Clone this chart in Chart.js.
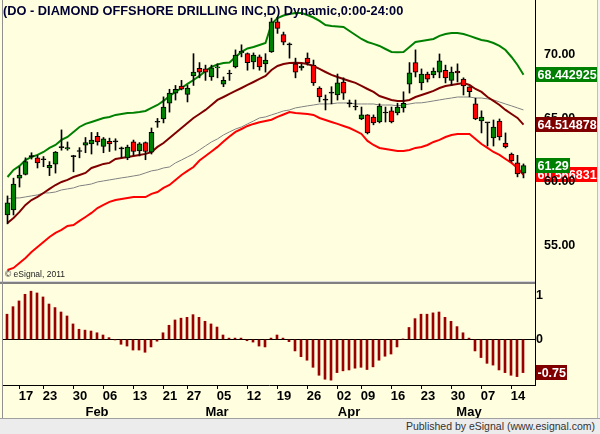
<!DOCTYPE html>
<html>
<head>
<meta charset="utf-8">
<script src="https://cdn.jsdelivr.net/npm/chart.js@4.4.0/dist/chart.umd.min.js"></script>
<style>
  body { margin: 0; width: 600px; height: 434px; overflow: hidden; position: relative; background: #FFFFE0; font-family: "Liberation Sans", Arial, sans-serif; }
  canvas { position: absolute; left: 0; }
  #price { top: 0; }
  #osc { top: 282px; }
  .line { position: absolute; }
  #footer { position: absolute; left: 0; top: 418px; width: 600px; height: 16px; background: #ECECEC; border-top: 1px solid #A0A0A0; box-sizing: border-box; font-size: 10.5px; color: #333; text-align: right; padding-right: 5px; line-height: 15px; }
</style>
</head>
<body>
<canvas id="price" width="600" height="282"></canvas>
<canvas id="osc" width="600" height="137"></canvas>
<div class="line" style="left:0;top:281px;width:535px;height:1px;background:#D8D8D8"></div>
<div class="line" style="left:0;top:282px;width:535px;height:2px;background:#808080"></div>
<div class="line" style="left:2px;top:0;width:1px;height:418px;background:#909090"></div>
<div class="line" style="left:535px;top:0;width:1px;height:385px;background:#000"></div>
<div class="line" style="left:597px;top:0;width:3px;height:418px;background:#F2F2F2;border-left:1px solid #C0C0C0"></div>
<div id="footer">Published by eSignal (www.esignal.com)</div>
<script>
// daily bars, index 0..86
const opens = [57.4,57.8,60.3,60.6,62.0,61.9,61.75,61.1,61.4,62.7,
  62.6,62.0,62.4,62.9,63.0,63.6,62.8,63.2,63.15,62.6,
  61.9,63.15,62.45,63.1,62.35,64.7,64.96,66.2,67.0,67.55,
  66.9,68.35,68.95,68.9,68.27,68.98,67.7,68.5,69.05,70.16,
  70.1,69.45,69.85,69.3,70.24,72.6,71.6,70.8,69.3,68.98,
  69.76,69.2,67.4,66.45,67.0,66.85,67.87,66.15,65.9,64.96,
  65.28,65.1,64.72,65.43,65.6,65.43,65.83,67.7,69.4,67.8,
  68.5,68.43,68.65,68.8,68.0,68.74,68.1,67.5,66.15,64.8,
  64.65,63.46,64.8,63.07,62.2,61.5,60.7];
const highs = [58.9,60.3,61.2,61.9,62.3,62.1,62.0,61.6,62.4,64.1,
  63.15,62.1,62.7,63.5,63.9,63.9,63.5,63.45,63.4,62.75,
  62.9,63.3,63.1,63.15,64.25,65.0,66.7,67.3,67.6,68.0,
  67.6,70.1,69.4,69.2,69.2,69.3,68.27,68.8,70.4,70.8,
  70.16,70.16,70.0,70.1,72.9,72.9,71.8,70.95,69.75,69.3,
  70.16,69.6,67.5,66.85,67.5,68.5,68.2,66.45,66.45,65.9,
  65.3,65.28,66.15,65.9,65.9,66.2,67.1,69.4,70.4,68.9,
  68.65,68.98,70.08,69.2,69.05,69.3,68.2,67.5,66.6,65.6,
  64.65,64.88,64.96,63.86,62.28,62.1,61.42];
const lows = [56.7,57.4,59.6,60.55,61.8,61.1,61.2,60.5,60.7,62.5,
  62.5,60.8,61.9,62.3,62.2,62.9,62.3,62.4,62.5,61.9,
  61.75,62.1,62.05,61.75,62.2,64.3,64.65,65.5,66.45,67.25,
  66.3,67.6,68.2,68.0,68.0,68.2,67.5,68.0,68.98,69.85,
  68.8,68.9,68.8,68.65,70.2,71.7,70.8,69.75,68.2,68.8,
  69.2,67.6,66.3,65.67,66.15,66.45,66.5,65.9,65.67,64.9,
  63.78,64.5,64.65,64.72,64.65,65.28,65.5,67.0,68.27,67.25,
  67.87,68.2,68.2,67.8,67.6,67.87,66.85,66.7,64.9,63.86,
  62.83,62.83,63.3,62.68,61.57,60.4,60.32];
const closes = [58.35,59.84,60.55,61.6,62.0,61.5,61.75,61.3,62.35,62.7,
  62.7,62.0,62.4,63.1,63.3,63.15,63.4,63.0,63.15,62.6,
  62.75,62.4,63.0,62.4,63.9,64.7,65.9,67.0,67.3,67.3,
  67.4,68.65,68.65,68.65,68.98,69.05,68.0,68.5,70.0,70.3,
  69.4,70.0,69.05,69.6,72.6,72.1,71.0,70.8,68.65,69.13,
  69.37,67.8,66.7,66.45,67.0,67.8,67.0,66.15,65.9,65.28,
  63.86,64.65,65.98,65.43,64.72,65.9,66.2,68.6,68.65,68.5,
  68.1,68.74,69.53,68.2,68.65,68.58,67.56,67.1,64.96,65.1,
  64.65,64.33,63.54,62.76,61.65,60.63,61.29];

// band lines
const upperBand = [60.39,60.95,61.26,61.73,61.97,62.13,62.36,62.68,62.91,63.31,
  63.54,63.94,64.33,64.57,64.72,64.88,65.04,65.12,65.28,65.35,
  65.43,65.45,65.51,65.59,65.83,66.06,66.38,66.77,67.09,67.40,
  67.72,68.03,68.35,68.74,69.06,69.25,69.37,69.41,69.84,70.24,
  70.51,70.63,70.79,70.94,72.44,72.91,73.11,73.23,73.31,73.31,
  73.15,72.95,72.68,72.36,72.28,72.24,72.21,71.89,71.57,71.26,
  71.02,70.87,70.71,70.47,70.24,70.22,70.24,70.63,71.02,71.10,
  71.18,71.26,71.50,71.65,71.73,71.73,71.65,71.50,71.34,71.18,
  71.10,70.94,70.71,70.39,69.84,69.21,68.442925];
const midBand = [56.77,57.17,57.64,58.19,58.58,58.82,59.13,59.45,59.76,60.00,
  60.16,60.39,60.55,60.71,61.10,61.26,61.42,61.50,61.81,61.89,
  61.97,62.05,62.13,62.21,62.36,62.76,63.07,63.47,63.86,64.25,
  64.65,65.04,65.35,65.67,66.06,66.46,66.69,66.93,67.17,67.40,
  67.64,67.87,68.11,68.35,68.82,69.13,69.29,69.37,69.38,69.37,
  69.29,69.13,68.90,68.66,68.43,68.27,68.11,67.95,67.80,67.56,
  67.32,67.09,66.77,66.61,66.46,66.38,66.38,66.46,66.69,66.85,
  67.01,67.17,67.40,67.56,67.64,67.72,67.80,67.64,67.32,67.09,
  66.69,66.38,66.06,65.67,65.35,65.04,64.514878];
const lowerBand = [53.07,53.23,53.62,54.02,54.49,54.88,55.28,55.67,55.99,56.22,
  56.54,56.61,56.93,57.24,57.56,57.95,58.19,58.43,58.58,58.66,
  58.74,58.82,58.82,58.81,59.06,59.21,59.53,59.76,60.16,60.55,
  60.87,61.18,61.69,62.05,62.40,62.76,63.19,63.58,63.94,64.17,
  64.41,64.57,64.70,64.80,64.90,65.12,65.31,65.51,65.43,65.39,
  65.35,65.28,65.04,64.88,64.72,64.57,64.41,64.25,64.02,63.78,
  63.23,62.91,62.68,62.60,62.52,62.44,62.44,62.52,62.68,62.76,
  62.91,63.15,63.31,63.54,63.70,63.78,63.78,63.78,63.39,62.99,
  62.68,62.36,62.13,61.81,61.50,61.10,60.566831];
const longAvg = [58.66,58.74,58.74,58.82,58.90,58.98,59.13,59.14,59.21,59.37,
  59.45,59.53,59.69,59.76,59.84,60.00,60.08,60.16,60.24,60.32,
  60.39,60.47,60.55,60.71,60.87,60.95,61.10,61.18,61.50,61.73,
  61.97,62.21,62.52,62.84,63.15,63.39,63.70,63.94,64.17,64.33,
  64.57,64.80,65.04,65.12,65.28,65.43,65.59,65.67,65.83,65.91,
  65.99,66.06,66.14,66.14,66.15,66.22,66.22,66.22,66.14,66.14,
  66.14,66.14,66.06,66.06,66.06,65.99,66.06,66.14,66.22,66.23,
  66.30,66.38,66.46,66.54,66.61,66.69,66.69,66.69,66.61,66.61,
  66.54,66.46,66.30,66.14,65.99,65.83,65.67];

// oscillator (lower pane)
const osc = [0.57,0.74,0.87,1.02,1.09,1.05,0.96,0.80,0.72,0.62,
  0.53,0.35,0.23,0.21,0.19,0.15,0.10,0.04,-0.01,-0.11,
  -0.15,-0.24,-0.24,-0.29,-0.17,-0.04,0.15,0.32,0.44,0.48,
  0.50,0.56,0.50,0.41,0.35,0.28,0.10,0.03,0.03,0.03,
  -0.03,-0.06,-0.15,-0.17,0.03,0.10,0.03,-0.05,-0.26,-0.39,
  -0.47,-0.63,-0.81,-0.90,-0.92,-0.75,-0.71,-0.69,-0.65,-0.63,
  -0.68,-0.62,-0.47,-0.38,-0.33,-0.17,0.01,0.27,0.47,0.57,
  0.57,0.60,0.62,0.50,0.41,0.29,0.15,0.03,-0.26,-0.41,
  -0.54,-0.58,-0.69,-0.75,-0.81,-0.84,-0.75];

// axis labels
const tickIdx = [2,6,11,16,21,26,30,35,40,45,50,55,59,64,69,74,79,84];
const dayLabels = ['17','23','30','06','13','21','27','05','12','19','26','02','09','16','23','30','07','14'];
const months = ['Feb','Mar','Apr','May'];
const monthIdx = [15,35,57,77];
const priceTicks = [55,60,65,70];
const oscTicks = [1,0];

const FONT = '"Liberation Sans", Arial, sans-serif';
const last = closes.length - 1;
const pts = arr => arr.map((v, i) => ({ x: i, y: v }));
// keep the plot area fixed: no extra room for edge labels
const noPad = s => { s.paddingTop = 0; s.paddingBottom = 0; s.paddingLeft = 0; s.paddingRight = 0; };

function drawBox(chart, value, bg, text) {
  const ctx = chart.ctx;
  const y = chart.scales.y.getPixelForValue(value);
  const x = chart.chartArea.right + 1;
  ctx.save();
  ctx.font = 'bold 12.5px ' + FONT;
  const w = ctx.measureText(text).width + 3;
  ctx.fillStyle = bg;
  ctx.fillRect(x, Math.round(y - 7.5), Math.round(w), 15);
  ctx.fillStyle = '#fff';
  ctx.textBaseline = 'middle';
  ctx.fillText(text, x + 1.5, y + 0.5);
  ctx.restore();
}

const priceExtras = {
  id: 'priceExtras',
  beforeDraw(chart) {
    drawBox(chart, lowerBand[last], '#FF0000', String(lowerBand[last]));
  },
  afterDraw(chart) {
    const ctx = chart.ctx;
    drawBox(chart, upperBand[last], '#008000', String(upperBand[last]));
    drawBox(chart, midBand[last], '#800000', String(midBand[last]));
    drawBox(chart, closes[last], '#008000', closes[last].toFixed(2));
    ctx.save();
    ctx.textBaseline = 'middle';
    ctx.fillStyle = '#000033';
    ctx.font = 'bold 12.8px ' + FONT;
    ctx.fillText('(DO - DIAMOND OFFSHORE DRILLING INC,D) Dynamic,0:00-24:00', 3, 11);
    ctx.fillStyle = '#222';
    ctx.font = '8.5px ' + FONT;
    ctx.fillText('\u00A9 eSignal, 2011', 5, 275);
    ctx.restore();
  }
};

const oscExtras = {
  id: 'oscExtras',
  afterDraw(chart) {
    const ctx = chart.ctx;
    const xs = chart.scales.x;
    ctx.save();
    ctx.fillStyle = '#000';
    ctx.font = 'bold 13px ' + FONT;
    ctx.textAlign = 'center';
    ctx.textBaseline = 'middle';
    months.forEach((m, k) => ctx.fillText(m, xs.getPixelForValue(monthIdx[k]), chart.chartArea.bottom + 27));
    ctx.restore();
    drawBox(chart, osc[last], '#800000', osc[last].toFixed(2));
  }
};

const candleColor = c => {
  const i = c.dataIndex;
  if (closes[i] > opens[i]) return '#008000';
  if (closes[i] < opens[i]) return '#FF0000';
  return '#000';
};

new Chart(document.getElementById('price'), {
  type: 'bar',
  data: {
    datasets: [
      {
        label: 'Body',
        data: closes.map((c, i) => ({ x: i, y: [Math.min(opens[i], c), Math.max(opens[i], c)] })),
        backgroundColor: candleColor,
        borderColor: '#000',
        borderWidth: 1,
        borderSkipped: false,
        barThickness: 5,
        minBarLength: 1,
        grouped: false,
        order: 0
      },
      {
        label: 'Wick',
        data: highs.map((h, i) => ({ x: i, y: [lows[i], h] })),
        backgroundColor: '#000',
        borderWidth: 0,
        barThickness: 1,
        grouped: false,
        order: 1
      },
      { type: 'line', label: 'Upper', data: pts(upperBand), borderColor: '#008000', borderWidth: 2, pointRadius: 0, order: 2 },
      { type: 'line', label: 'Mid', data: pts(midBand), borderColor: '#800000', borderWidth: 2, pointRadius: 0, order: 3 },
      { type: 'line', label: 'Lower', data: pts(lowerBand), borderColor: '#FF0000', borderWidth: 2, pointRadius: 0, order: 4 },
      { type: 'line', label: 'Avg', data: pts(longAvg), borderColor: '#808080', borderWidth: 1, pointRadius: 0, order: 5 }
    ]
  },
  options: {
    responsive: false,
    animation: false,
    layout: { padding: { left: 3, top: 1, bottom: 1, right: 0 } },
    plugins: { legend: { display: false }, tooltip: { enabled: false } },
    scales: {
      x: { type: 'linear', display: false, min: -0.75, max: 87.917, offset: false, grid: { offset: false } },
      y: {
        position: 'right',
        min: 52.2,
        max: 74.25,
        afterFit: s => { s.width = 65; noPad(s); },
        afterBuildTicks: s => { s.ticks = priceTicks.map(v => ({ value: v })); },
        grid: { display: false },
        border: { display: false },
        ticks: { callback: v => v.toFixed(2), color: '#000', padding: 1, font: { family: FONT, size: 12.5, weight: 'bold' } }
      }
    }
  },
  plugins: [priceExtras]
});

new Chart(document.getElementById('osc'), {
  type: 'bar',
  data: {
    datasets: [{
      label: 'Osc',
      data: pts(osc),
      backgroundColor: '#990000',
      borderWidth: 0,
      barThickness: 2
    }]
  },
  options: {
    responsive: false,
    animation: false,
    layout: { padding: { left: 3, top: 3, bottom: 0, right: 0 } },
    plugins: { legend: { display: false }, tooltip: { enabled: false } },
    scales: {
      x: {
        type: 'linear',
        min: -0.667,
        max: 88,
        offset: false,
        afterFit: s => { s.height = 34; noPad(s); },
        afterBuildTicks: s => { s.ticks = tickIdx.map(v => ({ value: v })); },
        grid: { display: true, drawOnChartArea: false, drawTicks: true, tickLength: 4, color: '#000', offset: false },
        border: { display: true, color: '#000' },
        ticks: {
          callback: (v, k) => dayLabels[k],
          autoSkip: false,
          maxRotation: 0,
          labelOffset: 7,
          padding: 0,
          color: '#000',
          font: { family: FONT, size: 13, weight: 'bold' }
        }
      },
      y: {
        position: 'right',
        min: -1.03,
        max: 1.23,
        afterFit: s => { s.width = 65; noPad(s); },
        afterBuildTicks: s => { s.ticks = oscTicks.map(v => ({ value: v })); },
        grid: {
          drawTicks: false,
          color: c => (c.tick && c.tick.value === 0 ? '#000' : 'rgba(0,0,0,0)')
        },
        border: { display: false },
        ticks: { color: '#000', padding: 1, font: { family: FONT, size: 12.5, weight: 'bold' } }
      }
    }
  },
  plugins: [oscExtras]
});
</script>
</body>
</html>
